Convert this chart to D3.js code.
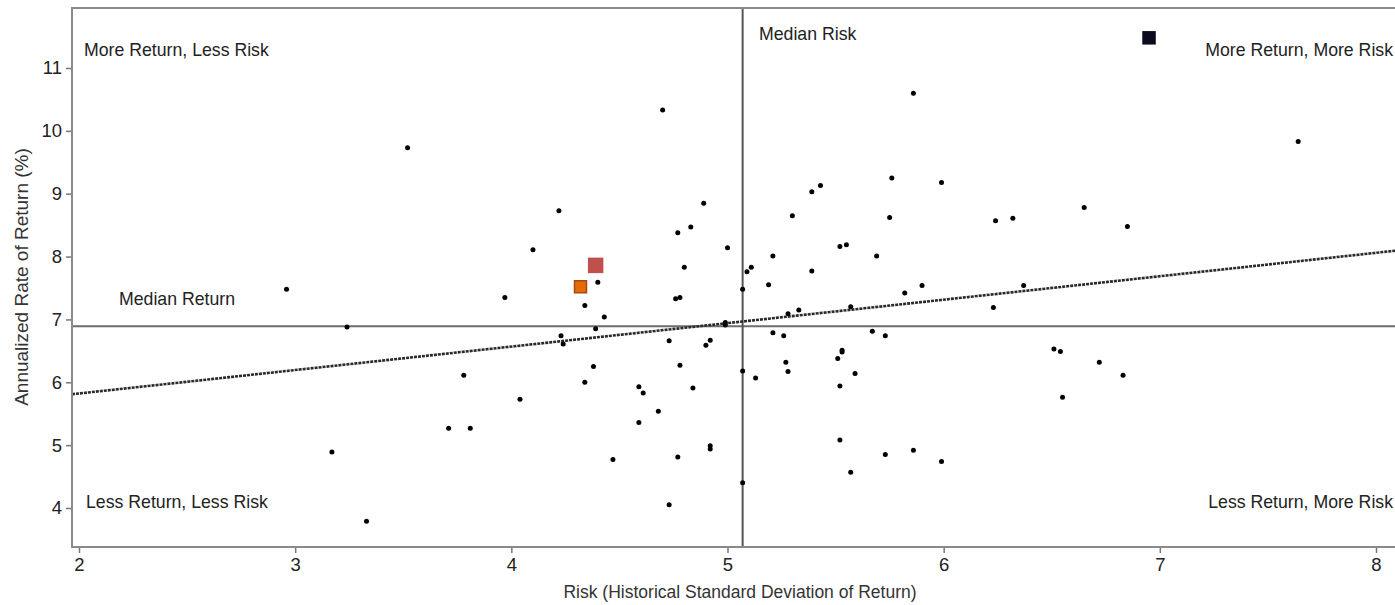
<!DOCTYPE html>
<html lang="en">
<head>
<meta charset="UTF-8">
<title>Risk vs Return</title>
<script src="https://d3js.org/d3.v7.min.js"></script>
<style>
  body { margin: 0; background: #fff; }
  svg { display: block; font-family: "Liberation Sans", Arial, sans-serif; }
  .tick text { font-size: 18.5px; fill: #222; }
  .tick line { stroke: #777; stroke-width: 1.5px; }
  .quad { font-size: 17.7px; fill: #222; }
  .title { font-size: 17.5px; fill: #333; }
</style>
</head>
<body>
<svg width="1395" height="605"></svg>
<script>
// funds: risk (std dev) and annualized return (%)
const risk = [2.96, 3.24, 3.52, 3.17, 3.33, 3.78, 3.71, 3.81, 3.97, 4.10, 4.04, 4.22,
  4.70, 4.89, 4.83, 4.77, 5.00, 5.30, 5.21, 4.80, 5.11, 5.09, 5.19, 4.40, 5.07,
  4.76, 4.78, 4.34, 4.43, 4.39, 4.23, 4.24, 4.73, 4.99, 4.99, 4.90, 4.92, 5.21,
  5.26, 5.28, 5.33, 4.78, 4.38, 4.34, 4.59, 4.61, 4.84, 5.07, 5.13, 5.27, 5.28,
  4.68, 4.59, 4.92, 4.92, 4.47, 4.77, 5.07, 4.73, 5.86, 7.64, 5.76, 5.99, 5.39,
  5.43, 5.75, 6.24, 6.32, 6.65, 6.85, 5.52, 5.55, 5.69, 5.39, 5.82, 5.90, 6.37,
  5.57, 6.23, 5.67, 5.73, 5.53, 5.53, 5.51, 5.59, 5.52, 6.51, 6.54, 6.72, 6.83,
  6.55, 5.52, 5.73, 5.86, 5.99, 5.57];
const ret = [7.48, 6.88, 9.73, 4.89, 3.79, 6.11, 5.27, 5.27, 7.35, 8.11, 5.73, 8.73,
  10.33, 8.85, 8.47, 8.38, 8.14, 8.65, 8.01, 7.83, 7.83, 7.76, 7.55, 7.59, 7.48,
  7.33, 7.35, 7.22, 7.04, 6.85, 6.74, 6.61, 6.66, 6.95, 6.91, 6.59, 6.67, 6.79,
  6.74, 7.09, 7.15, 6.27, 6.25, 6.00, 5.93, 5.83, 5.91, 6.18, 6.07, 6.32, 6.17,
  5.54, 5.36, 4.99, 4.94, 4.77, 4.81, 4.40, 4.05, 10.60, 9.83, 9.25, 9.18, 9.03,
  9.13, 8.62, 8.57, 8.61, 8.78, 8.48, 8.16, 8.19, 8.01, 7.77, 7.42, 7.54, 7.54,
  7.20, 7.19, 6.81, 6.74, 6.51, 6.48, 6.38, 6.14, 5.94, 6.53, 6.49, 6.32, 6.11,
  5.76, 5.08, 4.85, 4.92, 4.74, 4.57];

// highlighted funds
const highlights = [
  { risk: 6.95, ret: 11.48, fill: '#0b0b1e', stroke: '#0b0b1e', size: 12 },
  { risk: 4.39, ret: 7.86, fill: '#c0504d', stroke: '#c0504d', size: 14 },
  { risk: 4.32, ret: 7.52, fill: '#e36c09', stroke: '#a64a12', size: 12 }
];

const medianRisk = 5.07;
const medianReturn = 6.89;
const trend = { intercept: 5.076, slope: 0.373 };

const xTicks = [2, 3, 4, 5, 6, 7, 8];
const yTicks = [4, 5, 6, 7, 8, 9, 10, 11];

const svg = d3.select('svg');
const frame = { left: 72, top: 8, right: 1402, bottom: 547 };

const x = d3.scaleLinear().domain([2, 8]).range([79, 1376]);
const y = d3.scaleLinear().domain([4, 11]).range([508, 68]);
const xMin = x.invert(frame.left), xMax = x.invert(frame.right);

// axes
svg.append('g')
  .attr('transform', `translate(${frame.left},0)`)
  .call(d3.axisLeft(y).tickValues(yTicks).tickFormat(d3.format('d')).tickSize(6).tickPadding(4))
  .call(g => g.select('.domain').remove());

svg.append('g')
  .attr('transform', `translate(0,${frame.bottom})`)
  .call(d3.axisBottom(x).tickValues(xTicks).tickFormat(d3.format('d')).tickSize(6).tickPadding(5))
  .call(g => g.select('.domain').remove());

// median lines
svg.append('line')
  .attr('x1', frame.left).attr('x2', frame.right)
  .attr('y1', y(medianReturn)).attr('y2', y(medianReturn))
  .attr('stroke', '#6e6e6e').attr('stroke-width', 2);
svg.append('line')
  .attr('x1', x(medianRisk)).attr('x2', x(medianRisk))
  .attr('y1', frame.top).attr('y2', frame.bottom)
  .attr('stroke', '#555').attr('stroke-width', 2);

// trend line
svg.append('line')
  .attr('x1', x(xMin)).attr('y1', y(trend.intercept + trend.slope * xMin))
  .attr('x2', x(xMax)).attr('y2', y(trend.intercept + trend.slope * xMax))
  .attr('stroke', '#2a2a2a').attr('stroke-width', 2.6)
  .attr('stroke-dasharray', '3,1');

// frame
svg.append('rect')
  .attr('x', frame.left).attr('y', frame.top)
  .attr('width', frame.right - frame.left).attr('height', frame.bottom - frame.top)
  .attr('fill', 'none').attr('stroke', '#8a8a8a').attr('stroke-width', 2);

// dots
svg.append('g')
  .selectAll('circle')
  .data(d3.range(risk.length))
  .join('circle')
  .attr('cx', i => x(risk[i]))
  .attr('cy', i => y(ret[i]))
  .attr('r', 2.5)
  .attr('fill', '#000');

svg.append('g')
  .selectAll('rect')
  .data(highlights)
  .join('rect')
  .attr('x', d => x(d.risk) - d.size / 2)
  .attr('y', d => y(d.ret) - d.size / 2)
  .attr('width', d => d.size)
  .attr('height', d => d.size)
  .attr('fill', d => d.fill)
  .attr('stroke', d => d.stroke)
  .attr('stroke-width', 1.5);

// labels
const quads = [
  { text: 'More Return, Less Risk', x: 84, y: 56, anchor: 'start' },
  { text: 'More Return, More Risk', x: 1393, y: 56, anchor: 'end' },
  { text: 'Less Return, Less Risk', x: 86, y: 508, anchor: 'start' },
  { text: 'Less Return, More Risk', x: 1393, y: 508, anchor: 'end' },
  { text: 'Median Risk', x: 759, y: 40, anchor: 'start' },
  { text: 'Median Return', x: 119, y: 305, anchor: 'start' }
];
svg.append('g')
  .selectAll('text')
  .data(quads)
  .join('text')
  .attr('class', 'quad')
  .attr('x', d => d.x).attr('y', d => d.y)
  .attr('text-anchor', d => d.anchor)
  .text(d => d.text);

svg.append('text')
  .attr('class', 'title')
  .attr('x', 740).attr('y', 598)
  .attr('text-anchor', 'middle')
  .text('Risk (Historical Standard Deviation of Return)');

svg.append('text')
  .attr('class', 'title')
  .attr('transform', 'translate(28,277) rotate(-90)')
  .attr('text-anchor', 'middle')
  .style('font-size', '19px')
  .text('Annualized Rate of Return (%)');
</script>
</body>
</html>
